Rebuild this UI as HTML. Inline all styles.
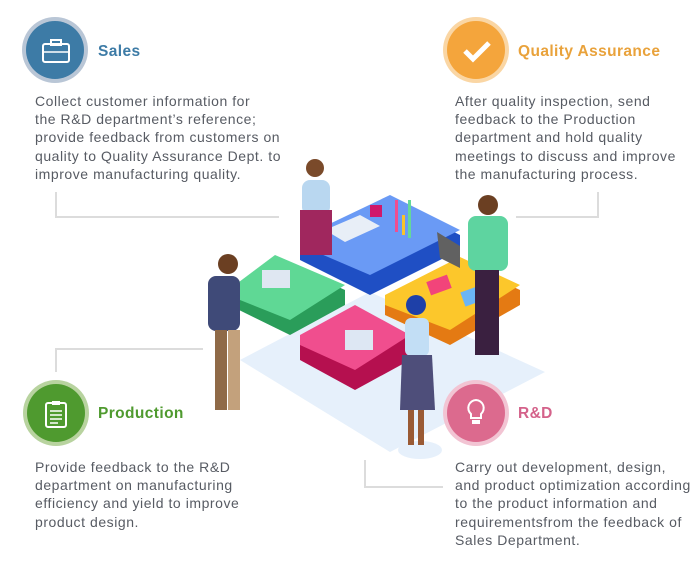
<!DOCTYPE html>
<html><head><meta charset="utf-8"><style>
body{margin:0;width:697px;height:578px;background:#fff;position:relative;overflow:hidden;font-family:"Liberation Sans",sans-serif}
.t{position:absolute;font-size:14px;line-height:18.2px;color:#575b63;letter-spacing:0.55px;white-space:nowrap}
.h{position:absolute;font-size:15.5px;font-weight:bold;letter-spacing:0.4px}
.c{position:absolute;border-radius:50%;width:58px;height:58px}
.ln{position:absolute;background:#dcdcdc}
</style></head><body>
<svg width="697" height="578" style="position:absolute;left:0;top:0">
<polygon points="240,360 370,292 545,372 390,452" fill="#e6f0fb"/>
<ellipse cx="420" cy="450" rx="22" ry="9" fill="#e6f0fb"/>
<polygon points="300,243 390,200 460,235 460,250 370,295 300,260" fill="#1f4fc4"/>
<polygon points="300,238 390,195 460,230 370,275 300,245" fill="#6a9af5"/>
<polygon points="235,290 275,258 345,290 345,305 290,335 235,308" fill="#2a9d5a"/>
<polygon points="235,285 275,255 345,285 290,320 235,298" fill="#5fd895"/>
<polygon points="385,300 460,262 520,290 520,305 450,345 385,315" fill="#e47a13"/>
<polygon points="385,295 460,257 520,285 450,330 385,305" fill="#fcc72b"/>
<rect x="428" y="278" width="22" height="14" fill="#f2447a" transform="rotate(-20 439 285)"/>
<rect x="462" y="288" width="24" height="15" fill="#6bb5f5" transform="rotate(-20 474 295)"/>
<polygon points="300,340 355,310 410,340 410,360 355,390 300,360" fill="#b5104f"/>
<polygon points="300,335 355,305 410,335 355,370 300,345" fill="#f04e8e"/>
<rect x="345" y="330" width="28" height="20" fill="#dde7f3"/>
<polygon points="325,230 360,215 380,226 345,242" fill="#e8eef7"/>
<rect x="262" y="270" width="28" height="18" fill="#dfe7f2"/>
<polygon points="437,232 460,246 460,268 440,258" fill="#616161"/>
<rect x="370" y="205" width="12" height="12" fill="#d0186b"/>
<rect x="395" y="200" width="3" height="32" fill="#f04e8e"/>
<rect x="402" y="215" width="3" height="20" fill="#f9c42a"/>
<rect x="408" y="200" width="3" height="38" fill="#64d89a"/>
<circle cx="315" cy="168" r="9" fill="#7a4a2a"/>
<rect x="302" y="180" width="28" height="35" rx="8" fill="#b9d7f0"/>
<rect x="300" y="210" width="32" height="45" fill="#a0275e"/>
<circle cx="228" cy="264" r="10" fill="#6b3f22"/>
<rect x="208" y="276" width="32" height="55" rx="8" fill="#3f4a78"/>
<rect x="215" y="330" width="12" height="80" fill="#8f6a48"/>
<rect x="228" y="330" width="12" height="80" fill="#c3a17c"/>
<circle cx="488" cy="205" r="10" fill="#6b3f22"/>
<rect x="468" y="216" width="40" height="55" rx="8" fill="#5ed4a0"/>
<rect x="475" y="270" width="24" height="85" fill="#3a2040"/>
<circle cx="416" cy="305" r="10" fill="#1e40a8"/>
<rect x="405" y="318" width="24" height="38" rx="6" fill="#c2def5"/>
<polygon points="402,355 432,355 435,410 400,410" fill="#4e4e7a"/>
<rect x="408" y="410" width="6" height="35" fill="#9a5a34"/>
<rect x="418" y="410" width="6" height="35" fill="#9a5a34"/>
</svg>

<div class="c" style="left:26px;top:21px;background:#3d7ba6;box-shadow:0 0 0 4px #b9c6d6"></div>
<svg style="position:absolute;left:41px;top:38px" width="30" height="26"><rect x="2" y="6" width="26" height="18" rx="2" fill="none" stroke="#fff" stroke-width="2"/><rect x="10" y="2" width="10" height="5" fill="none" stroke="#fff" stroke-width="2"/><line x1="2" y1="14" x2="28" y2="14" stroke="#fff" stroke-width="1.5"/></svg>
<div class="h" style="left:98px;top:43px;color:#3d7ba6">Sales</div>
<div class="t" style="left:35px;top:92px">Collect customer information for<br>the R&amp;D department’s reference;<br>provide feedback from customers on<br>quality to Quality Assurance Dept. to<br>improve manufacturing quality.</div>
<div class="ln" style="left:55px;top:192px;width:2px;height:26px"></div>
<div class="ln" style="left:55px;top:216px;width:224px;height:2px"></div>

<div class="c" style="left:447px;top:21px;background:#f4a53c;box-shadow:0 0 0 4px #fad6a4"></div>
<svg style="position:absolute;left:461px;top:38px" width="32" height="26"><polyline points="4,13 12,21 28,5" fill="none" stroke="#fff" stroke-width="5"/></svg>
<div class="h" style="left:518px;top:43px;color:#e9a23b">Quality Assurance</div>
<div class="t" style="left:455px;top:92px">After quality inspection, send<br>feedback to the Production<br>department and hold quality<br>meetings to discuss and improve<br>the manufacturing process.</div>
<div class="ln" style="left:597px;top:192px;width:2px;height:26px"></div>
<div class="ln" style="left:516px;top:216px;width:83px;height:2px"></div>

<div class="c" style="left:27px;top:384px;background:#4f9a2f;box-shadow:0 0 0 4px #b8d39f"></div>
<svg style="position:absolute;left:44px;top:400px" width="24" height="28"><rect x="2" y="3" width="20" height="24" rx="2" fill="none" stroke="#fff" stroke-width="2"/><rect x="8" y="1" width="8" height="4" fill="#fff"/><g stroke="#fff" stroke-width="1.5"><line x1="6" y1="11" x2="18" y2="11"/><line x1="6" y1="15" x2="18" y2="15"/><line x1="6" y1="19" x2="18" y2="19"/><line x1="6" y1="23" x2="14" y2="23"/></g></svg>
<div class="h" style="left:98px;top:405px;color:#4f9a2f">Production</div>
<div class="t" style="left:35px;top:458px">Provide feedback to the R&amp;D<br>department on manufacturing<br>efficiency and yield to improve<br>product design.</div>
<div class="ln" style="left:55px;top:348px;width:2px;height:24px"></div>
<div class="ln" style="left:55px;top:348px;width:148px;height:2px"></div>

<div class="c" style="left:447px;top:384px;background:#dc6a8e;box-shadow:0 0 0 4px #f2c4d3"></div>
<svg style="position:absolute;left:463px;top:397px" width="26" height="32"><path d="M13 3a8 8 0 0 0-5 14v4h10v-4a8 8 0 0 0-5-14z" fill="none" stroke="#fff" stroke-width="2"/><rect x="9" y="23" width="8" height="4" fill="#fff"/></svg>
<div class="h" style="left:518px;top:405px;color:#d4628a">R&amp;D</div>
<div class="t" style="left:455px;top:458px">Carry out development, design,<br>and product optimization according<br>to the product information and<br>requirementsfrom the feedback of<br>Sales Department.</div>
<div class="ln" style="left:364px;top:460px;width:2px;height:28px"></div>
<div class="ln" style="left:364px;top:486px;width:79px;height:2px"></div>
</body></html>
